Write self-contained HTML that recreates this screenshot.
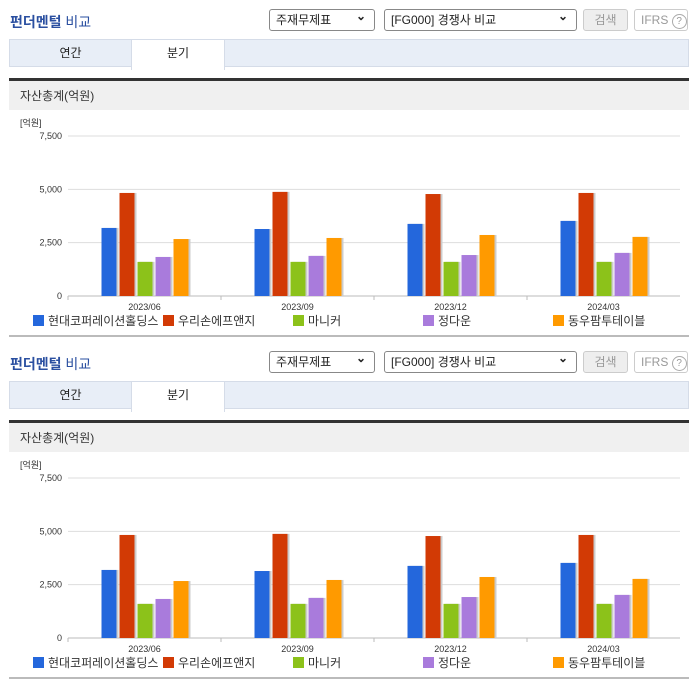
<!DOCTYPE html>
<html><head><meta charset="utf-8">
<style>
body{margin:0;width:696px;height:684px;background:#fff;font-family:"Liberation Sans","Noto Sans CJK KR",sans-serif;overflow:hidden;position:relative}
.sec{position:absolute;left:0;width:696px;height:342px}
.title{position:absolute;left:10px;top:12px;font-size:14px;color:#2a4fa0;font-weight:bold}
.title span{font-weight:normal;color:#2a4fa0}
.sel{position:absolute;top:9px;height:22px;border:1px solid #888;border-radius:3px;box-sizing:border-box;font-size:12px;line-height:20px;padding-left:6px;background:#fff;color:#222}
.sel:after{content:"⌄";position:absolute;right:8px;top:-4px;font-weight:bold}
.btn{position:absolute;top:9px;height:22px;border:1px solid #ccc;border-radius:3px;box-sizing:border-box;font-size:12px;line-height:20px;text-align:center;color:#999}
.tabs{position:absolute;left:9px;top:39px;width:680px;height:28px;background:#e8eef7;border:1px solid #d5dce8;box-sizing:border-box}
.tab{position:absolute;top:0;height:28px;font-size:12px;line-height:27px;text-align:center;color:#222}
.hdr{position:absolute;left:9px;top:78px;width:680px;height:32px;background:#f0f0f0;border-top:3px solid #333;box-sizing:border-box;font-size:12px;line-height:30px;padding-left:11px;color:#333}
.bot{position:absolute;left:9px;top:335px;width:680px;height:2px;background:#bbb}
svg{position:absolute;left:0;top:110px}
</style></head><body>
<div id="root"></div>
<script>
const categories=["2023/06","2023/09","2023/12","2024/03"];
const seriesNames=["현대코퍼레이션홀딩스","우리손에프앤지","마니커","정다운","동우팜투테이블"];
const seriesColors=["#2467dc","#d23a05","#8cc21a","#a97bdc","#ff9a00"];
const s0=[3190,3140,3380,3520];
const s1=[4830,4880,4780,4830];
const s2=[1600,1600,1600,1600];
const s3=[1830,1880,1920,2020];
const s4=[2670,2720,2860,2770];
const seriesVals=[s0,s1,s2,s3,s4];
const yTicks=[0,2500,5000,7500];
const yTickLabels=["0","2,500","5,000","7,500"];

const X0=68,X1=680,Y0=186,YT=26,YMAX=7500;
function y(v){return Y0-(v/YMAX)*(Y0-YT);}
function bandX(i){return X0+i*(X1-X0)/categories.length;}
const bw=(X1-X0)/categories.length;

function makeSection(top){
  const s=document.createElement('div');s.className='sec';s.style.top=top+'px';
  
  s.innerHTML=`
  <div class="title">펀더멘털 <span>비교</span></div>
  <div class="sel" style="left:269px;width:106px">주재무제표</div>
  <div class="sel" style="left:384px;width:193px">[FG000] 경쟁사 비교</div>
  <div class="btn" style="left:583px;width:45px;background:#eee">검색</div>
  <div class="btn" style="left:634px;width:54px;text-align:left;padding-left:6px">IFRS <span style="display:inline-block;width:13px;height:13px;border:1px solid #aaa;border-radius:50%;font-size:10px;line-height:13px;text-align:center">?</span></div>
  <div class="tabs">
    <div class="tab" style="left:0;width:121px">연간</div>
    <div class="tab" style="left:121px;width:92px;background:#fff;border-left:1px solid #d5dce8;border-right:1px solid #d5dce8;height:30px">분기</div>
  </div>
  <div class="hdr">자산총계(억원)</div>
  <div class="bot"></div>`;
  const NS='http://www.w3.org/2000/svg';
  const svg=document.createElementNS(NS,'svg');
  svg.setAttribute('width','696');svg.setAttribute('height','225');
  
  
  function el(t,a){const e=document.createElementNS(NS,t);for(const k in a)e.setAttribute(k,a[k]);svg.appendChild(e);return e;}
  const u=el('text',{x:20,y:16,'font-size':9,fill:'#333'});u.textContent='[억원]';
  
  
  yTicks.forEach((t,i)=>{
    const g=el('line',{x1:X0,x2:X1,y1:y(t),y2:y(t),stroke:i==0?'#bbb':'#ddd','stroke-width':1});
    
    
    const l=el('text',{x:62,y:y(t)+3,'font-size':9,fill:'#333','text-anchor':'end'});l.textContent=yTickLabels[i];
    
    
  });
  categories.forEach((c,i)=>{
    const bx=bandX(i);
    const tk=el('line',{x1:bx,x2:bx,y1:Y0,y2:Y0+4,stroke:'#bbb'});
    
    
    const cx=bx+bw/2;
    const t=el('text',{x:cx,y:Y0+14,'font-size':9,fill:'#333','text-anchor':'middle'});t.textContent=c;
    
    
    seriesVals.forEach((arr,k)=>{
      const x=cx-43+k*18;
      const sh=el('rect',{x:x+2,y:y(arr[i]),width:15,height:Y0-y(arr[i]),fill:'#ccc'});
      
      
      const r=el('rect',{x:x,y:y(arr[i]),width:15,height:Y0-y(arr[i]),fill:seriesColors[k]});
      
      
    });
  });
  const lx=[33,163,293,423,553];
  seriesNames.forEach((n,k)=>{
    const r=el('rect',{x:lx[k],y:205,width:11,height:11,fill:seriesColors[k]});
    
    
    const t=el('text',{x:lx[k]+15,y:215,'font-size':12,fill:'#333'});t.textContent=n;
    
    
  });
  s.appendChild(svg);
  document.getElementById('root').appendChild(s);
}
makeSection(0);makeSection(342);
</script>
</body></html>
